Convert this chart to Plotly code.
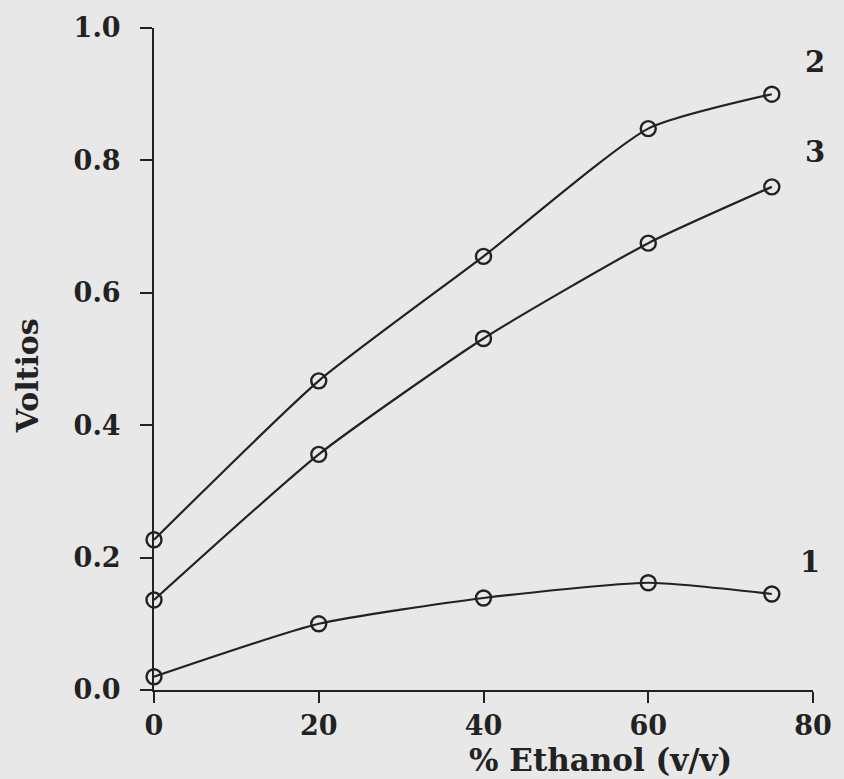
import plotly.graph_objects as go

ethanol = [0, 20, 40, 60, 75]
curve_1 = [0.020, 0.100, 0.139, 0.162, 0.145]
curve_2 = [0.227, 0.467, 0.655, 0.848, 0.900]
curve_3 = [0.136, 0.356, 0.531, 0.675, 0.760]
curve_names = ["1", "2", "3"]
label_pos = [(79.6, 0.194), (80.3, 0.949), (80.3, 0.813)]

ink = "#222222"
bg = "#e8e8e8"
font_family = "DejaVu Serif"
x_max = 80

fig = go.Figure()
for name, ys in zip(curve_names, [curve_1, curve_2, curve_3]):
    fig.add_trace(go.Scatter(
        x=ethanol, y=ys, mode="lines+markers", name=name,
        line=dict(color=ink, width=2.2, shape="spline", smoothing=0.55),
        marker=dict(symbol="circle-open", size=15, color=ink, line=dict(width=2.4, color=ink)),
        cliponaxis=False, showlegend=False,
    ))

for name, (lx, ly) in zip(curve_names, label_pos):
    fig.add_annotation(xref="paper", x=lx / x_max, y=ly, text=f"<b>{name}</b>", showarrow=False,
                       font=dict(family=font_family, size=29, color=ink),
                       xanchor="center", yanchor="middle")

fig.add_annotation(xref="paper", yref="paper", x=0.678, y=-0.106,
                   text="<b>% Ethanol (v/v)</b>", showarrow=False,
                   font=dict(family=font_family, size=31, color=ink),
                   xanchor="center", yanchor="middle")
fig.add_annotation(xref="paper", yref="paper", x=-0.1925, y=0.474,
                   text="<b>Voltios</b>", showarrow=False, textangle=-90,
                   font=dict(family=font_family, size=30, color=ink),
                   xanchor="center", yanchor="middle")

fig.update_layout(
    width=844, height=779,
    margin=dict(l=154, r=20, t=28, b=89),
    paper_bgcolor=bg, plot_bgcolor=bg,
    font=dict(family=font_family, color=ink),
)
fig.update_xaxes(
    range=[0, x_max], tickvals=[0, 20, 40, 60, 80], ticktext=["<b>0</b>", "<b>20</b>", "<b>40</b>", "<b>60</b>", "<b>80</b>"],
    showline=True, linecolor=ink, linewidth=2, ticks="outside", ticklen=11, tickwidth=2,
    tickcolor=ink, showgrid=False, zeroline=False, tickfont=dict(size=27, family=font_family, color=ink),
)
yt = [0.0, 0.2, 0.4, 0.6, 0.8, 1.0]
fig.update_yaxes(
    range=[0, 1.0], tickvals=yt, ticktext=[f"<b>{v:.1f}</b>" for v in yt],
    showline=True, linecolor=ink, linewidth=2, ticks="outside", ticklen=12, tickwidth=2,
    tickcolor=ink, showgrid=False, zeroline=False, tickfont=dict(size=27, family=font_family, color=ink),
    ticklabelstandoff=14,
)

fig.write_html("out.html")
